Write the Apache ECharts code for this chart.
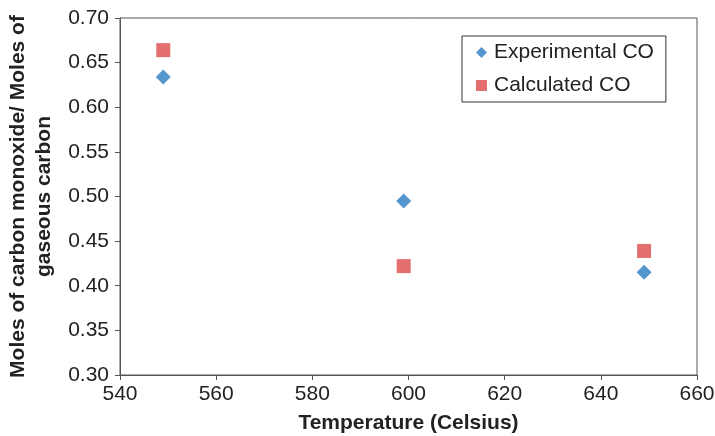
<!DOCTYPE html>
<html>
<head>
<meta charset="utf-8">
<script src="https://cdn.jsdelivr.net/npm/echarts@6/dist/echarts.min.js"></script>
<style>
  html, body { margin: 0; padding: 0; background: #fff; }
  #chart { width: 715px; height: 436px; }
</style>
</head>
<body>
<div id="chart"></div>
<script>
  // values
  var temperatures = [549, 599, 649];
  var experimentalCO = [0.634, 0.495, 0.415];
  var calculatedCO = [0.664, 0.422, 0.439];
  var seriesNames = ['Experimental CO', 'Calculated CO'];

  function pairs(xs, ys) {
    return xs.map(function (x, i) { return [x, ys[i]]; });
  }

  var font = 'Liberation Sans, Arial, Helvetica, sans-serif';
  var axisColor = '#555';

  var myChart = echarts.init(document.getElementById('chart'));

  var option = {
    animation: false,
    textStyle: { fontFamily: font },
    grid: {
      left: 120,
      right: 18,
      top: 18,
      bottom: 61,
      outerBoundsMode: 'none',
      show: true,
      borderColor: axisColor,
      borderWidth: 1
    },
    legend: {
      orient: 'vertical',
      left: 462,
      top: 36,
      padding: [6, 12, 6, 14],
      itemGap: 12,
      itemWidth: 11,
      itemHeight: 11,
      borderColor: '#333',
      borderWidth: 1,
      data: seriesNames,
      textStyle: { fontSize: 21, color: '#222', fontFamily: font, padding: [0, 0, 0, 2] }
    },
    xAxis: {
      type: 'value',
      min: 540,
      max: 660,
      interval: 20,
      name: 'Temperature (Celsius)',
      nameLocation: 'middle',
      nameGap: 38,
      nameTextStyle: { fontSize: 21, fontWeight: 'bold', color: '#222' },
      axisLine: { show: true, lineStyle: { color: axisColor } },
      axisTick: { show: true, length: 5, lineStyle: { color: axisColor } },
      axisLabel: { fontSize: 21, color: '#222', margin: 9 },
      splitLine: { show: false }
    },
    yAxis: {
      type: 'value',
      min: 0.3,
      max: 0.7,
      interval: 0.05,
      name: 'Moles of carbon monoxide/ Moles of\ngaseous carbon',
      nameLocation: 'middle',
      nameGap: 62,
      nameTextStyle: { fontSize: 21, fontWeight: 'bold', color: '#222', lineHeight: 26 },
      axisLine: { show: true, lineStyle: { color: axisColor } },
      axisTick: { show: true, length: 5, lineStyle: { color: axisColor } },
      axisLabel: {
        fontSize: 21,
        color: '#222',
        margin: 11,
        formatter: function (v) { return v.toFixed(2); }
      },
      splitLine: { show: false }
    },
    series: [
      {
        name: seriesNames[0],
        type: 'scatter',
        symbol: 'diamond',
        symbolSize: [15, 15],
        itemStyle: { color: '#2b7cc0' },
        data: pairs(temperatures, experimentalCO)
      },
      {
        name: seriesNames[1],
        type: 'scatter',
        symbol: 'rect',
        symbolSize: 14,
        itemStyle: { color: '#dd4b4b' },
        data: pairs(temperatures, calculatedCO)
      }
    ]
  };

  option && myChart.setOption(option);
</script>
</body>
</html>
